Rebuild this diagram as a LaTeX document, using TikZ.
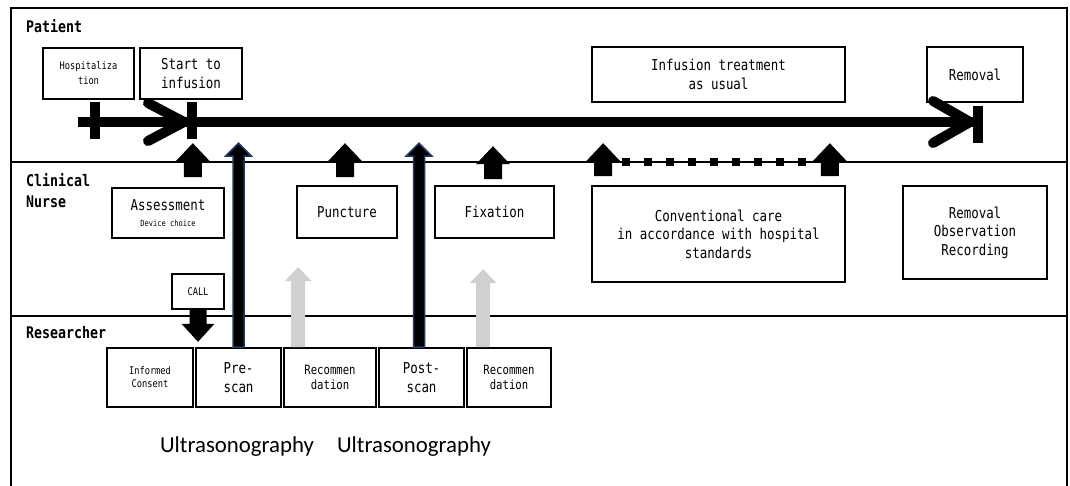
\documentclass[tikz,border=0pt]{standalone}
\usepackage{fontspec}
\usetikzlibrary{calc}
\newfontfamily\mono[FakeStretch=0.83]{DejaVu Sans Mono}
\newfontfamily\calib{Carlito}
\definecolor{navy}{HTML}{203864}
\definecolor{lgray}{HTML}{D0D0D0}
\newcommand\fsz[2]{\fontsize{#1}{#2}\selectfont}
\begin{document}
\begin{tikzpicture}[x=1pt,y=-1pt,
  box/.style={draw, line width=1.6pt, fill=white, inner sep=0pt, align=center, font=\mono\fsz{15}{19}},
  lanelbl/.style={anchor=base west, inner sep=0pt, font=\mono\bfseries\fsz{16}{21}, align=left},
  frame/.style={line width=1.6pt},
  blk/.style n args={3}{to path={let \p1=(\tikztostart), \p2=(\tikztotarget), \n1={(\y2>\y1)*2-1} in
     (\x1-#1/2,\y1) -- (\x1-#1/2,\y2-\n1*#3) -- (\x1-#2/2,\y2-\n1*#3) -- (\x1,\y2)
     -- (\x1+#2/2,\y2-\n1*#3) -- (\x1+#1/2,\y2-\n1*#3) -- (\x1+#1/2,\y1) -- cycle}},
  blackarrow/.style={fill=black, draw=none, blk={18pt}{34pt}{18pt}},
  bluearrow/.style={fill=black, draw=navy, line width=1.5pt, blk={11pt}{26pt}{13pt}},
  grayarrow/.style={fill=lgray, draw=none, blk={14pt}{27pt}{14pt}},
  timeline/.style={line width=10pt},
  chevron/.style={line width=10pt, line cap=round, line join=round},
  usg/.style={anchor=base, inner sep=0pt, font=\calib\fsz{22.8}{27}}
]
\useasboundingbox (0,0) rectangle (1070,485);

% frame and lanes
\coordinate (fnw) at (11,8);
\coordinate (fne) at (1067,8);
\coordinate (fsw) at (11,486);
\coordinate (fse) at (1067,486);
\coordinate (l1w) at (11,162);
\coordinate (l1e) at (1067,162);
\coordinate (l2w) at (11,316);
\coordinate (l2e) at (1067,316);
\draw[frame] (fsw) -- (fnw) -- (fne) -- (fse);
\draw[frame] (l1w) -- (l1e);
\draw[frame] (l2w) -- (l2e);

% lane labels
\node[lanelbl] (lp) at (26,32) {Patient};
\node[lanelbl] (ln) at (26,207) {Clinical\\Nurse};
\node[lanelbl] (lr) at (26,338) {Researcher};

% boxes
\node[box, minimum width=91pt, minimum height=51pt, font=\mono\fsz{10.5}{15}] (hosp) at (88.5,73.5) {Hospitaliza\\tion};
\node[box, minimum width=102pt, minimum height=51pt] (start) at (191,73.5) {Start to\\infusion};
\node[box, minimum width=253pt, minimum height=55pt] (inf) at (718.5,74.5) {Infusion treatment\\as usual};
\node[box, minimum width=96pt, minimum height=55pt] (rem) at (975,74.5) {Removal};

\node[box, minimum width=112pt, minimum height=50pt] (assess) at (168,213) {Assessment\\[-3pt]{\fsz{8.5}{10}Device choice}};
\node[box, minimum width=52pt, minimum height=35pt, font=\mono\fsz{10.5}{13}] (call) at (198,291.5) {CALL};
\node[box, minimum width=100pt, minimum height=52pt] (punct) at (347,212) {Puncture};
\node[box, minimum width=119pt, minimum height=52pt] (fix) at (494.5,212) {Fixation};
\node[box, minimum width=253pt, minimum height=96pt, font=\mono\fsz{15}{18.5}] (conv) at (718.5,234) {Conventional care\\in accordance with hospital\\standards};
\node[box, minimum width=144pt, minimum height=93pt, font=\mono\fsz{15}{18.5}] (remobs) at (975,232.5) {Removal\\Observation\\Recording};

\node[box, minimum width=86pt, minimum height=59pt, font=\mono\fsz{10.5}{13}] (ic) at (150,377.5) {Informed\\Consent};
\node[box, minimum width=85pt, minimum height=59pt, font=\mono\fsz{15}{19}] (pre) at (238.5,377.5) {Pre-\\scan};
\node[box, minimum width=92pt, minimum height=59pt, font=\mono\fsz{12.8}{15}] (rec1) at (330,377.5) {Recommen\\dation};
\node[box, minimum width=85pt, minimum height=59pt, font=\mono\fsz{15}{19}] (post) at (421.5,377.5) {Post-\\scan};
\node[box, minimum width=84pt, minimum height=59pt, font=\mono\fsz{12.8}{15}] (rec2) at (509,377.5) {Recommen\\dation};

\node[usg] (u1) at (237,452) {Ultrasonography};
\node[usg] (u2) at (414,452) {Ultrasonography};

% timeline
\coordinate (t0) at (78,122);
\coordinate (t1) at (975,122);
\draw[timeline] (t0) -- (t1);
\coordinate (k1a) at (95,102); \coordinate (k1b) at (95,139);
\coordinate (k2a) at (192,102); \coordinate (k2b) at (192,139);
\coordinate (k3a) at (978,106); \coordinate (k3b) at (978,143);
\draw[timeline] (k1a) -- (k1b);
\draw[timeline] (k2a) -- (k2b);
\draw[timeline] (k3a) -- (k3b);
\coordinate (c1a) at (148,103); \coordinate (c1t) at (184,122); \coordinate (c1b) at (148,141);
\coordinate (c2a) at (933,101); \coordinate (c2t) at (970,122); \coordinate (c2b) at (933,143);
\draw[chevron] (c1a) -- (c1t) -- (c1b);
\draw[chevron] (c2a) -- (c2t) -- (c2b);

% nurse -> patient arrows
\path[blackarrow] ($(assess.north east)+(-32,-10)$) to ($(assess.north east)+(-32,-44)$);
\path[blackarrow] ($(punct.north)+(-2,-8)$) to ($(punct.north)+(-2,-42)$);
\path[blackarrow] ($(fix.north)+(-1.5,-6)$) to ($(fix.north)+(-1.5,-39)$);
\path[blackarrow] ($(conv.north west)+(12,-9)$) to ($(conv.north west)+(12,-42)$);
\path[blackarrow] ($(conv.north east)+(-16,-9)$) to ($(conv.north east)+(-16,-42)$);
\coordinate (d0) at ($(conv.north west)+(31,-23)$);
\coordinate (d1) at ($(conv.north east)+(-38,-23)$);
\draw[line width=2pt] (d0) -- (d1);
\draw[line width=8pt, dash pattern=on 8pt off 14pt] (d0) -- (d1);

% researcher -> patient arrows
\path[bluearrow] (pre.north) to ($(pre.north)+(0,-204)$);
\path[bluearrow] ($(post.north)+(-2.5,0)$) to ($(post.north)+(-2.5,-204)$);
\path[grayarrow] ($(rec1.north west)+(15,0)$) to ($(rec1.north west)+(15,-80)$);
\path[grayarrow] ($(rec2.north west)+(17,0)$) to ($(rec2.north west)+(17,-78)$);

% call arrow
\path[blk={17pt}{33pt}{18pt}, fill=black, draw=none] (call.south) to ($(call.south)+(0,32)$);
\end{tikzpicture}
\end{document}
